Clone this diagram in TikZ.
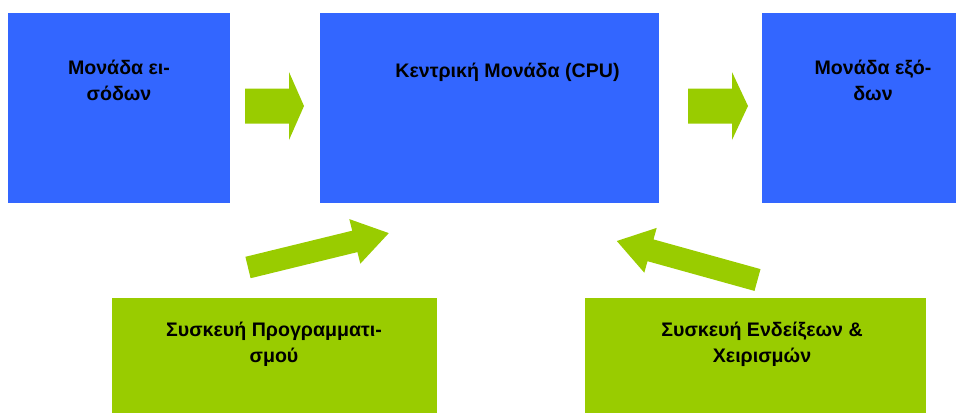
\documentclass[tikz,border=0pt]{standalone}
\usepackage{fontspec}
\setmainfont{Liberation Sans}

\tikzset{every picture/.style={line width=0.75pt}}
\tikzset{
  unitbox/.style={fill={rgb, 255:red, 51; green, 102; blue, 255 }},
  devbox/.style={fill={rgb, 255:red, 153; green, 204; blue, 0 }},
  flowarrow/.style={fill={rgb, 255:red, 153; green, 204; blue, 0 }},
  boxtext/.style={anchor=base, inner sep=0.75pt, align=center, font=\fontsize{14.7}{19.3}\selectfont\bfseries}
}

\begin{document}
\begin{tikzpicture}[x=0.75pt,y=0.75pt,yscale=-1,xscale=1]
\useasboundingbox (0,0) rectangle (956,412);
\clip (0,0) rectangle (956,412);

%Shape: Rectangle [input unit]
\draw  [unitbox, draw=none] (8,13) rectangle (230,203) ;
%Shape: Rectangle [cpu]
\draw  [unitbox, draw=none] (320,13) rectangle (659,203) ;
%Shape: Rectangle [output unit]
\draw  [unitbox, draw=none] (762,13) rectangle (984,203) ;
%Shape: Rectangle [programming device]
\draw  [devbox, draw=none] (112,298) rectangle (437,420) ;
%Shape: Rectangle [display and control device]
\draw  [devbox, draw=none] (585,298) rectangle (926,420) ;

%Shape: Right Arrow [input -> cpu]
\draw  [flowarrow, draw=none] (245,88.5) -- (289,88.5) -- (289,72) -- (304,106) -- (289,140) -- (289,123.5) -- (245,123.5) -- cycle ;
%Shape: Right Arrow [cpu -> output]
\draw  [flowarrow, draw=none] (688,88.5) -- (732,88.5) -- (732,72) -- (748,106) -- (732,140) -- (732,123.5) -- (688,123.5) -- cycle ;
%Shape: Right Arrow [programming -> cpu]
\draw  [flowarrow, draw=none] (245.4,256.8) -- (352.2,230.7) -- (349.3,219.1) -- (388.8,233.1) -- (360.3,263.7) -- (357.4,252.1) -- (250.6,278.2) -- cycle ;
%Shape: Right Arrow [display -> cpu]
\draw  [flowarrow, draw=none] (760.5,269.1) -- (653.5,239.4) -- (656.7,227.9) -- (616.8,241.0) -- (644.3,272.7) -- (647.5,261.2) -- (754.5,290.9) -- cycle ;

% Text Node (base = last line)
\draw (119,100) node [boxtext] (inputtxt) {Μονάδα ει-\\σόδων};
% Text Node
\draw (507.5,77) node [boxtext] (cputxt) {Κεντρική Μονάδα (CPU)};
% Text Node (base = last line)
\draw (873,100) node [boxtext] (outputtxt) {Μονάδα εξό-\\δων};
% Text Node (base = last line)
\draw (274,362) node [boxtext] (progtxt) {Συσκευή Προγραμματι-\\σμού};
% Text Node (base = last line)
\draw (762,362) node [boxtext] (paneltxt) {Συσκευή Ενδείξεων \&\\Χειρισμών};

\end{tikzpicture}
\end{document}
